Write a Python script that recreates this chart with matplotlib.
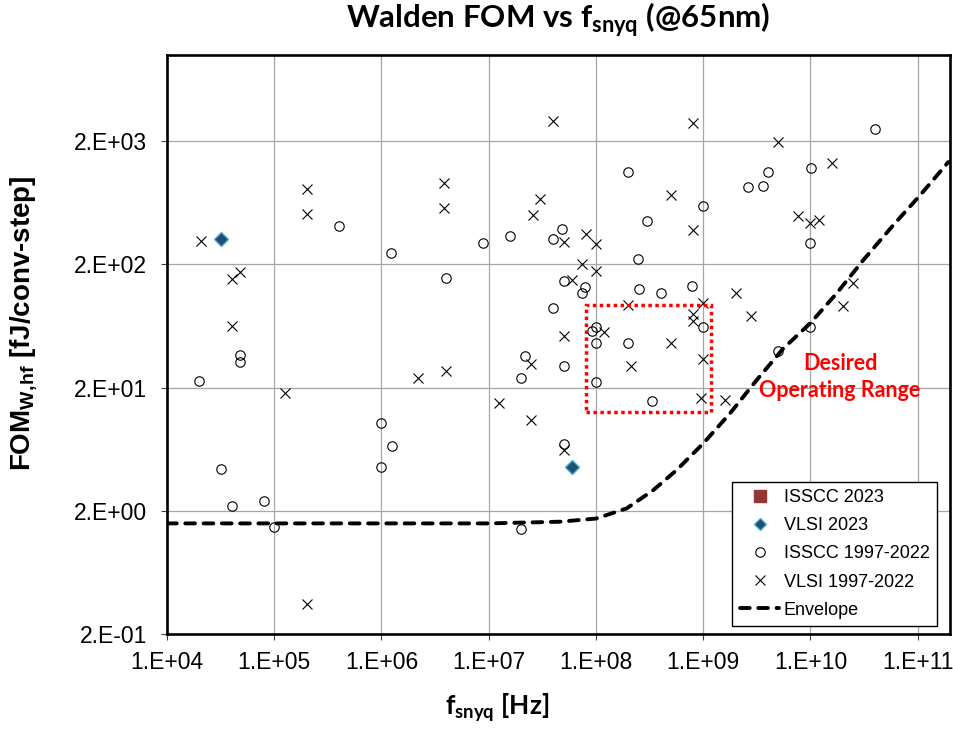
"""
Walden FOM vs Nyquist sampling frequency (@65nm) scatter chart.
Values are read from the survey plot; saved as out.png.
"""

import matplotlib
matplotlib.use("Agg")
import matplotlib.pyplot as plt
from matplotlib.lines import Line2D
from matplotlib.patches import Rectangle
from matplotlib.ticker import NullLocator

DPI = 100
W_PX, H_PX = 954, 738
SANS = ["Liberation Sans", "DejaVu Sans"]
HEAD = ["Lato", "DejaVu Sans"]

# ISSCC 1997-2022 (open circles): f_snyq [Hz], FOM [fJ/conv-step]
ISSCC_F = [4.0e5, 1.23e6, 2.0e8, 1.0e9, 3.0e8, 4.8e7, 4.0e7, 1.58e7, 8.9e6, 2.46e8,
           4.0e6, 5.0e7, 7.9e7, 7.4e7, 2.5e8, 4.0e8, 7.9e8, 4.0e7, 1.0e9, 9.1e7,
           1.0e8, 1.0e8, 2.0e8, 2.2e7, 2.0e7, 5.0e7, 1.0e8, 3.3e8, 5.0e7, 2.0e7,
           4.0e10, 4.0e9, 2.6e9, 3.6e9, 1.02e10, 1.0e10, 1.0e10, 5.0e9, 4.8e4, 4.8e4,
           2.0e4, 1.0e6, 1.25e6, 1.0e6, 3.2e4, 4.0e4, 8.0e4, 1.0e5]
ISSCC_FOM = [410, 246, 1120, 590, 450, 390, 320, 340, 300, 223,
             154, 146, 131, 118, 127, 117, 134, 89, 62, 58,
             62, 46, 46, 36, 24, 30, 22, 15.6, 7.0, 1.42,
             2500, 1130, 850, 860, 1220, 297, 62, 39.5, 37, 32,
             22.5, 10.3, 6.7, 4.5, 4.4, 2.2, 2.4, 1.47]

# VLSI 1997-2022 (crosses)
VLSI_F = [2.07e4, 2.0e5, 2.0e5, 4.8e4, 4.0e4, 4.0e4, 4.0e7, 8.0e8, 5.0e8, 3.8e6,
          3.8e6, 3.0e7, 2.6e7, 8.0e8, 5.0e7, 8.0e7, 1.0e8, 7.4e7, 1.0e8, 6.0e7,
          2.0e8, 1.0e9, 8.0e8, 8.0e8, 1.2e8, 5.0e7, 5.0e8, 2.1e8, 1.0e9, 9.5e8,
          1.58e9, 2.0e9, 2.8e9, 5.0e9, 1.6e10, 7.6e9, 1.0e10, 1.2e10, 2.5e10, 2.0e10,
          4.0e6, 2.5e7, 1.25e7, 2.5e7, 5.0e7, 1.26e5, 2.2e6, 2.0e5]
VLSI_FOM = [308, 810, 517, 173, 152, 63, 2930, 2820, 734, 910,
            578, 675, 500, 378, 305, 350, 293, 200, 175, 149,
            93, 97, 79, 70, 57, 52, 46, 30, 34, 16.6,
            16, 118, 76, 1950, 1330, 496, 431, 458, 141, 91,
            27.5, 31, 15, 11, 6.2, 18, 24, 0.35]

# VLSI 2023 (diamonds)
VLSI23_F = [3.2e4, 6.0e7]
VLSI23_FOM = [320, 4.5]

# ISSCC 2023: legend entry only, no points in this view
ISSCC23_F = []
ISSCC23_FOM = []

# Envelope
ENV_F = [1e4, 1e7, 4.6e7, 1e8, 1.93e8, 3.42e8, 5.65e8, 1e9, 1.77e9, 3.15e9,
         5.57e9, 9.9e9, 1.75e10, 3.1e10, 5.9e10, 1.05e11, 1.93e11]
ENV_FOM = [1.58, 1.58, 1.63, 1.73, 2.09, 2.94, 4.28, 7.04, 12.3, 23.0,
           41.5, 66.2, 116, 216, 415, 726, 1353]

# Desired operating range box: (f_low, f_high), (fom_low, fom_high)
RANGE_F = (8.0e7, 1.17e9)
RANGE_FOM = (12.7, 93.0)

X_TICKS = [1e4, 1e5, 1e6, 1e7, 1e8, 1e9, 1e10, 1e11]
X_TICK_LABELS = ["1.E+04", "1.E+05", "1.E+06", "1.E+07",
                 "1.E+08", "1.E+09", "1.E+10", "1.E+11"]
Y_TICKS = [0.2, 2, 20, 200, 2000]
Y_TICK_LABELS = ["2.E-01", "2.E+00", "2.E+01", "2.E+02", "2.E+03"]


def fx(px):
    return px / W_PX


def fy(py):
    return 1 - py / H_PX


fig = plt.figure(figsize=(W_PX / DPI, H_PX / DPI), dpi=DPI)
ax = fig.add_axes([fx(167), fy(634), fx(950) - fx(167), fy(55) - fy(634)])

ax.set_xscale("log")
ax.set_yscale("log")
ax.set_xlim(1e4, 2e11)
ax.set_ylim(0.2, 1e4)

ax.grid(True, which="major", color="#a6a6a6", lw=0.9)
ax.set_axisbelow(True)

ax.plot(ENV_F, ENV_FOM, color="black", lw=2.8, dashes=(2.5, 2.2),
        dash_capstyle="round", zorder=2)

ax.plot(ISSCC_F, ISSCC_FOM, ls="none", marker="o", ms=6.8, mfc="none",
        mec="black", mew=0.8, zorder=3)
ax.plot(VLSI_F, VLSI_FOM, ls="none", marker="x", ms=7.2, mec="black",
        mew=0.8, zorder=3)
ax.plot(VLSI23_F, VLSI23_FOM, ls="none", marker="D", ms=7.3, mfc="#1f4e79",
        mec="#4bacc6", mew=1.0, zorder=4)
ax.plot(ISSCC23_F, ISSCC23_FOM, ls="none", marker="s", ms=8, color="#953735",
        zorder=4)

ax.add_patch(Rectangle((RANGE_F[0], RANGE_FOM[0]),
                       RANGE_F[1] - RANGE_F[0], RANGE_FOM[1] - RANGE_FOM[0],
                       fill=False, edgecolor="#ff0000", lw=2.5,
                       ls=(0, (1, 1)), zorder=5))

ax.set_xticks(X_TICKS)
ax.set_xticklabels(X_TICK_LABELS)
ax.set_yticks(Y_TICKS)
ax.set_yticklabels(Y_TICK_LABELS)
ax.xaxis.set_minor_locator(NullLocator())
ax.yaxis.set_minor_locator(NullLocator())
ax.tick_params(which="major", direction="out", length=4.5, width=0.8,
               color="#404040", labelsize=16.5, labelcolor="black")
ax.tick_params(axis="x", pad=8)
ax.tick_params(axis="y", pad=10)
for lab in ax.get_xticklabels() + ax.get_yticklabels():
    lab.set_family(SANS)

for spine in ax.spines.values():
    spine.set_linewidth(1.9)
    spine.set_color("black")

# titles and labels
fig.text(fx(558.5), fy(28), r"Walden FOM vs f$_\mathregular{snyq}$ (@65nm)",
         ha="center", va="baseline", fontsize=22.5, fontweight="bold", family=HEAD)
fig.text(fx(497), fy(714), r"f$_\mathregular{snyq}$ [Hz]",
         ha="center", va="baseline", fontsize=19, fontweight="bold", family=HEAD)
fig.text(fx(24), fy(323), r"FOM$_\mathregular{W,\!hf}$ [fJ/conv-step]",
         ha="center", va="center", rotation=90, fontsize=20,
         fontweight="bold", family=SANS)

fig.text(fx(840), fy(370), "Desired", ha="center", va="baseline",
         color="#ff0000", fontsize=15.5, fontweight="bold", family=HEAD)
fig.text(fx(840), fy(397), "Operating Range", ha="center", va="baseline",
         color="#ff0000", fontsize=15.5, fontweight="bold", family=HEAD)

handles = [
    Line2D([], [], ls="none", marker="s", ms=8, color="#953735"),
    Line2D([], [], ls="none", marker="D", ms=6, mfc="#1f4e79", mec="#4bacc6", mew=1.0),
    Line2D([], [], ls="none", marker="o", ms=6.8, mfc="none", mec="black", mew=0.8),
    Line2D([], [], ls="none", marker="x", ms=7.2, mec="black", mew=0.8),
    Line2D([], [], color="black", lw=2.8, dashes=(2.5, 2.2), dash_capstyle="round"),
]
labels = ["ISSCC 2023", "VLSI 2023", "ISSCC 1997-2022", "VLSI 1997-2022", "Envelope"]
leg = fig.legend(handles, labels, loc="lower right",
                 bbox_to_anchor=(fx(937), fy(626)), bbox_transform=fig.transFigure,
                 borderaxespad=0, fancybox=False, framealpha=1, edgecolor="black",
                 prop={"family": SANS, "size": 13}, borderpad=0.4,
                 labelspacing=0.62, handlelength=2.2, handletextpad=0.25)
leg.get_frame().set_linewidth(1.0)

fig.savefig("out.png", dpi=DPI, facecolor="white")
